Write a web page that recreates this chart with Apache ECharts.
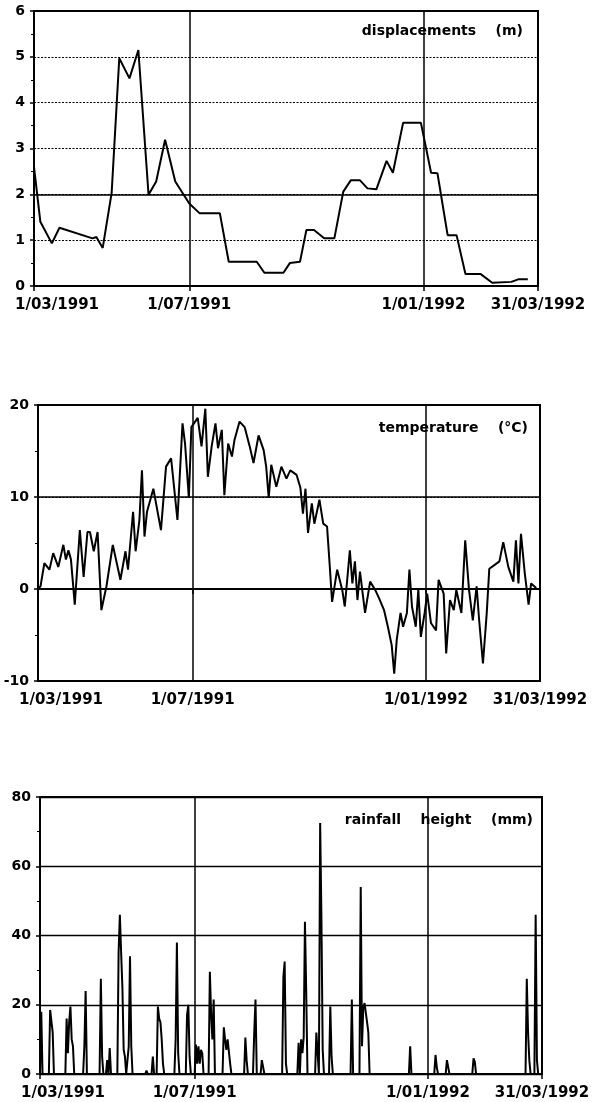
<!DOCTYPE html>
<html><head><meta charset="utf-8">
<script src="https://cdn.jsdelivr.net/npm/echarts@6/dist/echarts.min.js"></script>
<style>html,body{margin:0;padding:0;background:#fff}#c{width:595px;height:1102px}</style>
</head><body><div id="c"></div>
<script>
// ---- axis categories: one per day, 1/03/1991 .. 31/03/1992 ----
const firstDay = Date.UTC(1991, 2, 1);
const dayCount = 397;
const tickLabels = ['1/03/1991', '1/07/1991', '1/01/1992', '31/03/1992'];
const splitLabels = ['1/07/1991', '1/01/1992'];
const panelTitles = ['displacements    (m)', 'temperature    (°C)', 'rainfall    height    (mm)'];

// ---- displacements (m): day offset from 1/03/1991, value ----
const dispDay = [0, 5, 14, 20, 46, 49, 54, 61, 67, 75, 82, 90, 96, 103, 111, 122, 130, 146, 153, 175, 181, 196, 201, 209, 214, 220, 228, 236, 243, 249, 256, 262, 269, 277, 282, 290, 304, 312, 317, 325, 332, 339, 351, 360, 375, 381, 388];
const dispVal = [2.6, 1.4, 0.93, 1.27, 1.04, 1.07, 0.83, 2.03, 4.97, 4.53, 5.15, 1.99, 2.28, 3.19, 2.28, 1.8, 1.59, 1.59, 0.53, 0.53, 0.29, 0.29, 0.5, 0.53, 1.22, 1.22, 1.04, 1.04, 2.06, 2.31, 2.31, 2.13, 2.11, 2.73, 2.47, 3.56, 3.56, 2.47, 2.46, 1.11, 1.11, 0.26, 0.26, 0.07, 0.09, 0.15, 0.15];

// ---- temperature (°C) ----
const tempDay = [0, 2, 5, 9, 12, 16, 20, 22, 24, 26, 29, 33, 36, 39, 41, 44, 47, 50, 54, 59, 65, 69, 71, 75, 77, 80, 82, 84, 86, 91, 97, 101, 105, 110, 114, 116, 119, 121, 126, 129, 132, 134, 137, 140, 142, 145, 147, 150, 153, 155, 159, 163, 167, 170, 174, 178, 180, 182, 184, 188, 192, 196, 199, 204, 207, 209, 211, 213, 216, 218, 222, 225, 228, 230, 232, 236, 240, 242, 246, 248, 250, 252, 254, 258, 262, 266, 269, 273, 276, 279, 281, 283, 286, 288, 291, 293, 295, 298, 300, 302, 305, 307, 310, 314, 316, 320, 322, 325, 328, 330, 334, 337, 340, 343, 346, 348, 351, 354, 356, 360, 364, 367, 371, 375, 377, 379, 381, 384, 387, 389, 393];
const tempVal = [0, 0.3, 2.8, 2.1, 3.9, 2.4, 4.8, 3.2, 4.2, 3.2, -1.7, 6.4, 1.3, 6.2, 6.2, 4.1, 6.2, -2.3, 0.3, 4.8, 1.0, 4.1, 2.1, 8.4, 4.1, 7.5, 12.9, 5.7, 8.4, 10.9, 6.4, 13.3, 14.2, 7.5, 18.0, 15.8, 9.9, 17.6, 18.6, 15.5, 19.6, 12.2, 15.5, 18.0, 15.3, 17.3, 10.2, 15.8, 14.4, 16.2, 18.2, 17.6, 15.5, 13.7, 16.7, 15.1, 13.3, 9.9, 13.5, 11.1, 13.3, 12.0, 12.9, 12.4, 11.0, 8.2, 10.9, 6.1, 9.3, 7.1, 9.7, 7.1, 6.8, 2.8, -1.4, 2.1, -0.1, -1.9, 4.2, 0.6, 3.0, -1.2, 1.9, -2.6, 0.8, -0.1, -1.0, -2.3, -4.1, -6.1, -9.2, -5.5, -2.6, -4.1, -2.6, 2.1, -1.9, -4.1, -0.1, -5.2, -2.6, -0.5, -3.7, -4.5, 1.0, -0.5, -7.0, -1.2, -2.3, -0.1, -2.6, 5.3, -0.1, -3.4, 0.3, -3.4, -8.1, -2.6, 2.2, 2.6, 3.0, 5.1, 2.4, 0.8, 5.3, 0.6, 6.0, 1.7, -1.7, 0.6, 0.1];

// ---- rainfall height (mm) ----
const rainDay = [0, 1, 2, 7, 8, 9, 10, 11, 20, 21, 22, 23, 24, 25, 26, 27, 34, 35, 36, 37, 47, 48, 49, 50, 52, 53, 54, 55, 56, 61, 62, 63, 64, 65, 66, 67, 68, 69, 70, 71, 72, 73, 83, 84, 85, 88, 89, 90, 92, 93, 94, 95, 96, 97, 98, 106, 107, 108, 109, 110, 115, 116, 117, 118, 119, 122, 123, 124, 125, 126, 127, 128, 129, 133, 134, 135, 136, 137, 138, 144, 145, 146, 147, 148, 149, 150, 151, 161, 162, 163, 164, 168, 169, 170, 171, 174, 175, 176, 177, 191, 192, 193, 194, 195, 203, 204, 205, 206, 207, 208, 209, 210, 211, 217, 218, 219, 220, 221, 222, 223, 224, 228, 229, 230, 231, 245, 246, 247, 252, 253, 254, 255, 256, 257, 258, 259, 260, 291, 292, 293, 311, 312, 313, 314, 320, 321, 322, 323, 341, 342, 343, 344, 383, 384, 385, 386, 387, 388, 390, 391, 392, 393, 396];
const rainVal = [0, 18, 0, 0, 18.5, 18, 12, 0, 0, 16, 6, 15, 19.5, 10, 8, 0, 0, 8, 24, 0, 0, 27.5, 5, 0, 0, 4, 0, 7.5, 0, 0, 35, 46, 35, 25, 7, 5, 0, 0, 8, 34, 8, 0, 0, 1, 0, 0, 5, 0, 0, 19.5, 16, 15, 10, 3, 0, 0, 10, 38, 6, 0, 0, 17, 20, 5, 0, 0, 8.5, 3, 8, 3, 7, 6, 0, 0, 29.5, 17, 10, 21.5, 0, 0, 13.5, 10, 7, 10, 9.5, 3, 0, 0, 10.5, 4, 0, 0, 12, 21.5, 0, 0, 4, 3.5, 0, 0, 28, 32.5, 3, 0, 0, 9, 0, 10, 6, 10.5, 44, 24, 0, 0, 12, 6, 0, 72.5, 45, 7, 0, 0, 19.5, 5, 0, 0, 21.5, 0, 0, 54, 8, 19, 20.5, 21, 15, 12, 0, 0, 8, 0, 0, 5.5, 2, 0, 0, 4, 2, 0, 0, 4.5, 3.5, 0, 0, 27.5, 12, 4, 0, 0, 0, 46, 4, 0, 0];

// ---- build ----
const categories = [];
for (let i = 0; i < dayCount; i++) {
  const d = new Date(firstDay + i * 86400000);
  categories.push(d.getUTCDate() + '/' + String(d.getUTCMonth() + 1).padStart(2, '0') + '/' + d.getUTCFullYear());
}
const pairs = (xs, ys) => xs.map((x, i) => [x, ys[i]]);

const FONT = 'DejaVu Sans';
const grids = [
  { left: 34, right: 57, top: 11, height: 275 },
  { left: 38, right: 55, top: 405, height: 276 },
  { left: 40, right: 53, top: 797, height: 277 }
].map(g => Object.assign(g, { show: true, borderColor: '#000', borderWidth: 2, backgroundColor: 'transparent' }));

function xAxis(i) {
  return {
    type: 'category', gridIndex: i, data: categories, boundaryGap: false,
    axisLine: { lineStyle: { color: '#000', width: 2 } },
    axisTick: { interval: (idx, val) => tickLabels.includes(val), length: 5, lineStyle: { color: '#000', width: 1.5 } },
    axisLabel: {
      interval: (idx, val) => tickLabels.includes(val), margin: 12, color: '#000',
      fontFamily: FONT, fontWeight: 'bold', fontSize: 15,
      formatter: (val, idx) => idx === 0 ? '{f|' + val + '}' : val,
      rich: { f: { padding: [0, 0, 0, 46], fontFamily: FONT, fontWeight: 'bold', fontSize: 15, color: '#000' } }
    },
    splitLine: { show: true, interval: (idx, val) => splitLabels.includes(val), lineStyle: { color: '#000', width: 1.5 } }
  };
}
function yAxis(i, min, max, interval, dotted) {
  return {
    type: 'value', gridIndex: i, min: min, max: max, interval: interval,
    axisLine: { show: true, lineStyle: { color: '#000', width: 2 } },
    axisTick: { show: true, length: 4, lineStyle: { color: '#000', width: 1.5 } },
    minorTick: { show: true, splitNumber: 2, length: 3, lineStyle: { color: '#000', width: 1 } },
    axisLabel: { margin: 9, color: '#000', fontFamily: FONT, fontWeight: 'bold', fontSize: 14 },
    splitLine: { show: true, lineStyle: { color: '#000', width: dotted ? 1 : 1.3, type: dotted ? [2, 1.5] : 'solid' } }
  };
}
function solidLine(values) {
  return { silent: true, symbol: 'none', label: { show: false }, animation: false,
    lineStyle: { color: '#000', type: 'solid', width: 1.5 }, data: values.map(v => ({ yAxis: v })) };
}
function lineSeries(i, data, mark) {
  const s = { type: 'line', xAxisIndex: i, yAxisIndex: i, data: data, symbol: 'none', showSymbol: false,
    lineStyle: { color: '#000', width: 2 }, itemStyle: { color: '#000' }, animation: false };
  if (mark) s.markLine = solidLine(mark);
  return s;
}
const titleStyle = { color: '#000', fontFamily: FONT, fontWeight: 'bold', fontSize: 14 };

const chart = echarts.init(document.getElementById('c'), null, { renderer: 'canvas' });
chart.setOption({
  animation: false,
  backgroundColor: '#fff',
  title: [
    { text: panelTitles[0], right: 72, top: 24, padding: 0, textStyle: titleStyle },
    { text: panelTitles[1], right: 67, top: 421, padding: 0, textStyle: titleStyle },
    { text: panelTitles[2], right: 62, top: 813, padding: 0, textStyle: titleStyle }
  ],
  grid: grids,
  xAxis: [xAxis(0), xAxis(1), xAxis(2)],
  yAxis: [yAxis(0, 0, 6, 1, true), yAxis(1, -10, 20, 10, true), yAxis(2, 0, 80, 20, false)],
  series: [
    lineSeries(0, pairs(dispDay, dispVal), [2]),
    lineSeries(1, pairs(tempDay, tempVal), [10]),
    lineSeries(2, pairs(rainDay, rainVal), null)
  ]
});
</script>
</body></html>
